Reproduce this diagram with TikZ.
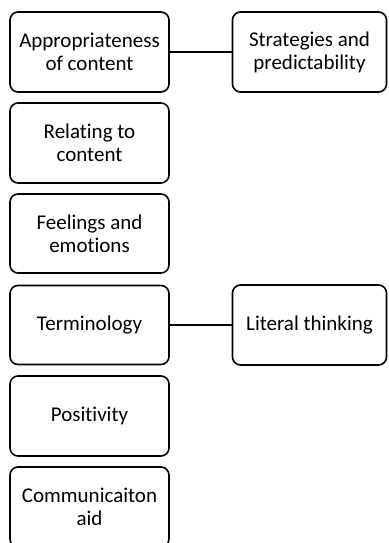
\documentclass[tikz,border=0pt]{standalone}
\usepackage{fontspec}
\setmainfont[Ligatures=NoCommon]{Carlito}
\begin{document}
\begin{tikzpicture}[x=1pt,y=-1pt,
  box/.style={draw=black, line width=1.6pt, rounded corners=8pt, align=center,
    font=\fontsize{21}{23}\selectfont, inner sep=0pt},
  conn/.style={draw=black, line width=1.6pt}]
\useasboundingbox (0,0) rectangle (388,543);
\node[box, minimum width=159pt, minimum height=80pt] (a) at (89.5,52) {Appropriateness\\of content};
\node[box, minimum width=159pt, minimum height=80pt] (b) at (89.5,143) {Relating to\\content};
\node[box, minimum width=159pt, minimum height=79pt] (c) at (89.5,233.5) {Feelings and\\emotions};
\node[box, minimum width=159pt, minimum height=79pt] (d) at (89.5,325) {Terminology};
\node[box, minimum width=159pt, minimum height=80pt] (e) at (89.5,416) {Positivity};
\node[box, minimum width=159pt, minimum height=80pt] (f) at (89.5,507) {Communicaiton\\aid};
\node[box, minimum width=154pt, minimum height=80pt] (g) at (309.5,52) {Strategies and\\predictability};
\node[box, minimum width=154pt, minimum height=80pt] (h) at (309.5,325) {Literal thinking};
\draw[conn] (a.east) -- (g.west);
\draw[conn] (d.east) -- (h.west);
\end{tikzpicture}
\end{document}
